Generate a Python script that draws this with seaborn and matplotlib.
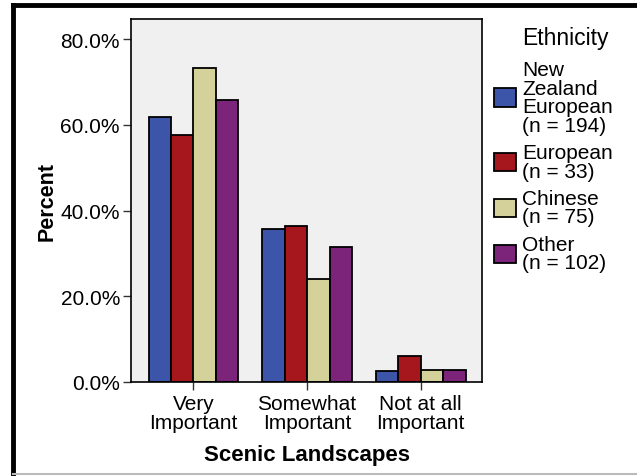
import pandas as pd
import matplotlib
matplotlib.use("Agg")
import matplotlib.pyplot as plt
from matplotlib.lines import Line2D
import seaborn as sns

plt.rcParams['font.family'] = ['Liberation Sans', 'DejaVu Sans']

categories = ["Very\nImportant", "Somewhat\nImportant", "Not at all\nImportant"]
groups = ["New\nZealand\nEuropean\n(n = 194)", "European\n(n = 33)", "Chinese\n(n = 75)", "Other\n(n = 102)"]
nz_european = [61.9, 35.6, 2.6]
european = [57.6, 36.4, 6.1]
chinese = [73.3, 24.0, 2.7]
other = [65.7, 31.4, 2.9]
colors = ["#3d55a9", "#a5161d", "#d5d19a", "#7b2479"]
yticks = [0, 20, 40, 60, 80]

rows = []
for g, vals in zip(groups, [nz_european, european, chinese, other]):
    for c, v in zip(categories, vals):
        rows.append({"cat": c, "pct": v, "eth": g})
df = pd.DataFrame(rows)

fig = plt.figure(figsize=(6.37, 4.77), dpi=100)
ax = fig.add_axes([131/637, 1-383/477, (482-131)/637, (383-20)/477])
ax.set_facecolor("#f0f0f0")

sns.barplot(data=df, x="cat", y="pct", hue="eth", palette=colors, ax=ax,
            edgecolor="black", linewidth=1.3, width=0.79, saturation=1)

ax.set_ylim(0, 84.7)
ax.set_xlim(-0.55, 2.54)
ax.set_yticks(yticks)
ax.set_yticklabels([f"{t:.1f}%" for t in yticks])
ax.tick_params(axis="both", length=6, width=1, color="#333333", labelsize=15)
ax.tick_params(axis="x", pad=3)
ax.tick_params(axis="y", pad=2)
for lab in ax.get_xticklabels():
    lab.set_linespacing(1.0)
for s in ax.spines.values():
    s.set_color("black")
    s.set_linewidth(1.2)

ax.set_xlabel("Scenic Landscapes", fontsize=16, fontweight="bold", labelpad=8)
ax.set_ylabel("Percent", fontsize=15.5, fontweight="bold", labelpad=2)

handles, labels = ax.get_legend_handles_labels()
ax.get_legend().remove()
leg = fig.legend(handles, labels, loc="upper left", bbox_to_anchor=(494/637, 1-61/477),
                 frameon=False, fontsize=15, borderpad=0, borderaxespad=0,
                 handlelength=1.05, handleheight=1.0, handletextpad=0.3,
                 labelspacing=0.4)
for t in leg.get_texts():
    t.set_linespacing(0.97)
fig.text(522/637, 1-39/477, "Ethnicity", fontsize=16.5, ha="left", va="center")

# outer frame
fig.add_artist(Line2D([13/637, 1], [1-6/477, 1-6/477], color="black", lw=3.5))
fig.add_artist(Line2D([13/637, 13/637], [1-6/477, 0], color="black", lw=3.5))
fig.add_artist(Line2D([13/637, 1], [1-475/477, 1-475/477], color="#bbbbbb", lw=1.5))

fig.savefig("out.png", dpi=100)
